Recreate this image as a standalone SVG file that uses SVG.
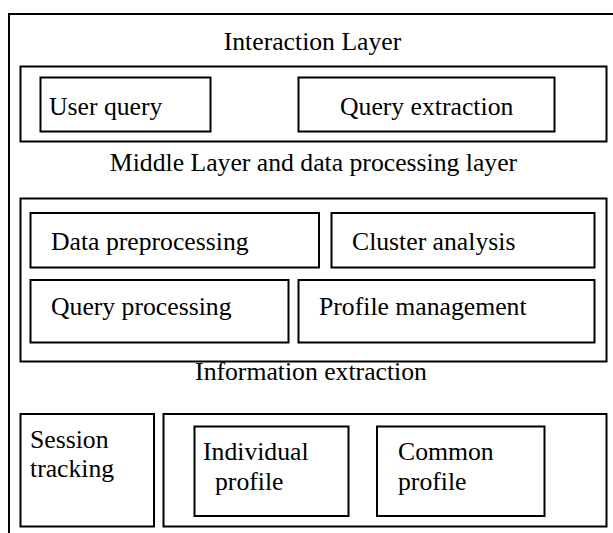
<svg xmlns="http://www.w3.org/2000/svg" width="613" height="533" viewBox="0 0 613 533">
<style>
  .box { fill: #fff; stroke: #000; stroke-width: 2; }
  .frame { fill: none; stroke: #000; stroke-width: 2; }
  .t { font-family: "Liberation Serif", "Times New Roman", serif; font-size: 25.7px; fill: #000; }
  .c { text-anchor: middle; }
</style>
<rect width="613" height="533" fill="#fff"/>
<g id="outer-frame">
  <path class="frame" d="M9,533 V14 H614"/>
</g>
<g id="interaction-layer">
  <text class="t c" x="312.5" y="49.5">Interaction Layer</text>
  <rect class="box" x="20.5" y="66.5" width="586" height="75"/>
  <g id="user-query">
    <rect class="box" x="40.5" y="77.5" width="170" height="54"/>
    <text class="t" x="49" y="114.5">User query</text>
  </g>
  <g id="query-extraction">
    <rect class="box" x="298.5" y="77.5" width="256" height="54"/>
    <text class="t" x="340" y="114.5">Query extraction</text>
  </g>
</g>
<g id="middle-layer">
  <text class="t c" x="313.5" y="171">Middle Layer and data processing layer</text>
  <rect class="box" x="20.5" y="198.5" width="586" height="163"/>
  <g id="data-preprocessing">
    <rect class="box" x="30.5" y="213" width="288.5" height="54.5"/>
    <text class="t" x="51" y="250">Data preprocessing</text>
  </g>
  <g id="cluster-analysis">
    <rect class="box" x="331.5" y="213" width="263" height="54.5"/>
    <text class="t" x="352" y="250">Cluster analysis</text>
  </g>
  <g id="query-processing">
    <rect class="box" x="30.5" y="280" width="258" height="62.5"/>
    <text class="t" x="51" y="315">Query processing</text>
  </g>
  <g id="profile-management">
    <rect class="box" x="298.5" y="280" width="296" height="62.5"/>
    <text class="t" x="319" y="315">Profile management</text>
  </g>
</g>
<g id="information-extraction">
  <text class="t c" x="311" y="380">Information extraction</text>
  <g id="session-tracking">
    <rect class="box" x="20.5" y="414" width="133.5" height="112.5"/>
    <text class="t" x="30" y="448">Session</text>
    <text class="t" x="30" y="477">tracking</text>
  </g>
  <g id="profiles">
    <rect class="box" x="163.5" y="414" width="443" height="112.5"/>
    <g id="individual-profile">
      <rect class="box" x="194.5" y="426.5" width="154" height="89.5"/>
      <text class="t" x="203" y="460">Individual</text>
      <text class="t" x="215" y="490">profile</text>
    </g>
    <g id="common-profile">
      <rect class="box" x="377" y="426.5" width="167.5" height="89.5"/>
      <text class="t" x="398" y="460">Common</text>
      <text class="t" x="398" y="490">profile</text>
    </g>
  </g>
</g>
</svg>
